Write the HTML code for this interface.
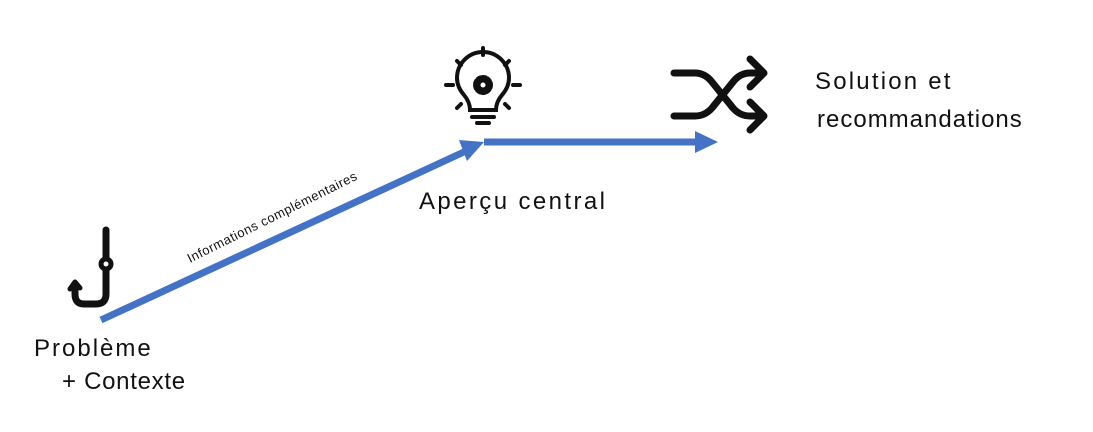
<!DOCTYPE html>
<html><head><meta charset="utf-8"><style>
body{margin:0;width:1093px;height:432px;background:#fff;overflow:hidden;position:relative;font-family:"Liberation Sans",sans-serif;color:#111}
.t{position:absolute;font-size:24px;white-space:nowrap;line-height:1}
</style></head><body>
<svg width="1093" height="432" style="position:absolute;left:0;top:0">
<g stroke="#4472c4" fill="#4472c4">
<line x1="101" y1="320" x2="466" y2="151" stroke-width="7"/>
<polygon points="484,142 459,140 467,161" stroke="none"/>
<line x1="484" y1="142" x2="698" y2="142" stroke-width="7"/>
<polygon points="718,142 695,131 695,153" stroke="none"/>
</g>
<text x="0" y="0" font-size="13" letter-spacing="0.5" font-family="Liberation Sans" fill="#111" transform="translate(190,263) rotate(-26.5)">Informations complémentaires</text>
<!-- hook -->
<g stroke="#111" fill="none" stroke-linecap="round">
<line x1="106" y1="230" x2="106" y2="258" stroke-width="7"/>
<circle cx="106" cy="264" r="5" stroke-width="5"/>
<path d="M106 270 V294 Q106 304 96 304 H84 Q75 304 75 294 V284" stroke-width="7"/>
<path d="M75 282 l-5 7 M75 282 l5 6" stroke-width="5"/>
</g>
<!-- bulb -->
<g stroke="#111" fill="none" stroke-width="4" stroke-linecap="round">
<path d="M470 110 Q470 102 464 95 Q457 87 457 78 A26 26 0 0 1 509 78 Q509 87 502 95 Q496 102 496 110 Z"/>
<line x1="472" y1="117" x2="494" y2="117"/>
<line x1="477" y1="123" x2="489" y2="123"/>
<line x1="483" y1="48" x2="483" y2="55"/>
<line x1="446" y1="85" x2="453" y2="85"/><line x1="513" y1="85" x2="520" y2="85"/>
<line x1="457" y1="61" x2="461" y2="65"/><line x1="509" y1="61" x2="505" y2="65"/>
<line x1="457" y1="108" x2="461" y2="104"/><line x1="509" y1="108" x2="505" y2="104"/>
<circle cx="483" cy="85" r="8" stroke-width="4" stroke-dasharray="3 2.3"/>
</g>
<circle cx="483" cy="85" r="7" fill="#111"/><circle cx="483" cy="85" r="2.5" fill="#fff"/>
<!-- shuffle -->
<g stroke="#111" fill="none" stroke-width="7" stroke-linecap="round" stroke-linejoin="round">
<path d="M674 73 H695 Q705 73 712 82 L733 108 Q740 116 750 116 H762"/>
<path d="M674 116 H695 Q705 116 712 108 L733 82 Q740 73 750 73 H762"/>
<path d="M750 59 L764 73 L750 87"/>
<path d="M750 102 L764 116 L750 130"/>
</g>
</svg>
<div class="t" style="left:34px;top:337px;letter-spacing:2px">Problème</div>
<div class="t" style="left:62px;top:370px;letter-spacing:0.7px">+ Contexte</div>
<div class="t" style="left:419px;top:190px;letter-spacing:2.4px">Aperçu central</div>
<div class="t" style="left:815px;top:70px;letter-spacing:2.2px">Solution et</div>
<div class="t" style="left:817px;top:108px;letter-spacing:1px">recommandations</div>
</body></html>
